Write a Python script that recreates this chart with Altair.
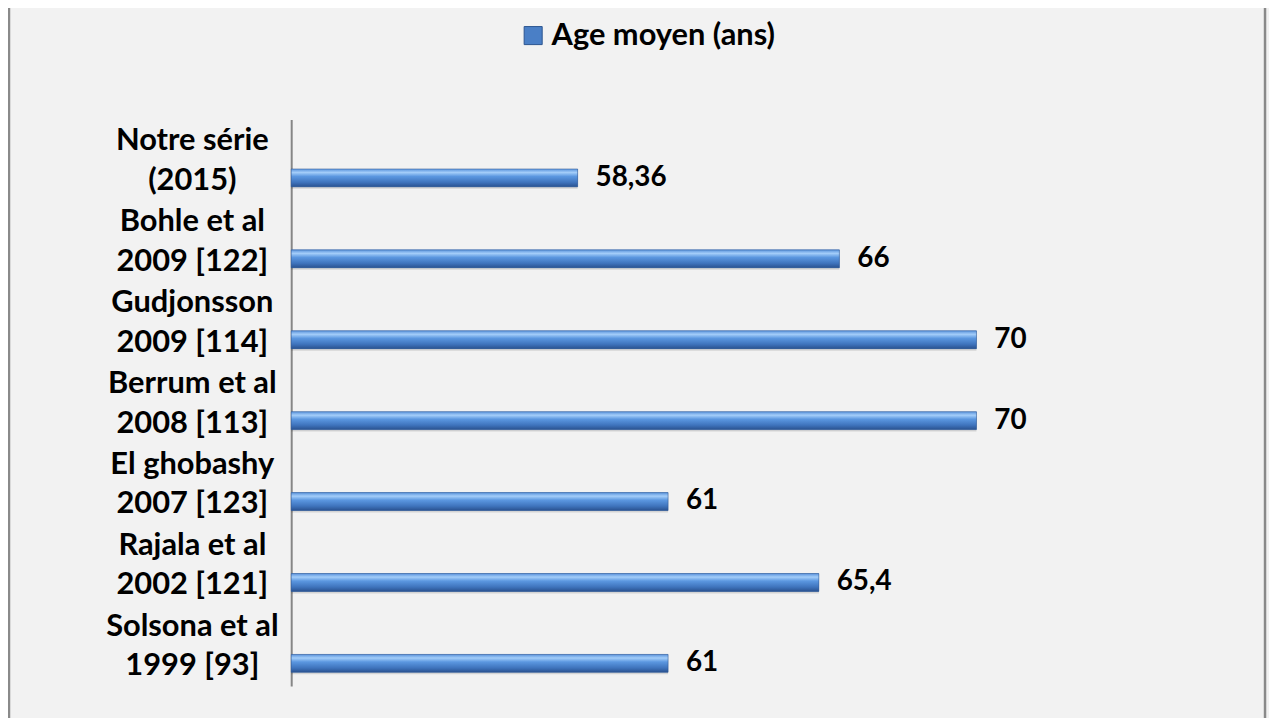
import altair as alt
import pandas as pd

categories = ["Notre série|(2015)", "Bohle et al|2009 [122]", "Gudjonsson|2009 [114]",
              "Berrum et al|2008 [113]", "El ghobashy|2007 [123]", "Rajala et al|2002 [121]",
              "Solsona et al|1999 [93]"]
values = [58.36, 66, 70, 70, 61, 65.4, 61]
value_labels = ["58,36", "66", "70", "70", "61", "65,4", "61"]
series = "Age moyen (ans)"

df = pd.DataFrame({"cat": categories, "val": values, "lab": value_labels, "series": series})

FONT = "Lato"
FS = 31
FSV = 28
W, H = 862, 570

grad = alt.LinearGradient(
    gradient="linear", x1=0, x2=0, y1=0, y2=1,
    stops=[alt.GradientStop(offset=0, color="#5a93dc"),
           alt.GradientStop(offset=0.2, color="#a3cdf9"),
           alt.GradientStop(offset=0.42, color="#5b97e0"),
           alt.GradientStop(offset=0.75, color="#3f74bd"),
           alt.GradientStop(offset=1, color="#2a5290")])

y_enc = alt.Y("cat:N", sort=None, title=None,
              axis=alt.Axis(labelExpr="split(datum.label, '|')", labelFont=FONT,
                            labelFontSize=FS, labelFontWeight="bold", labelColor="black",
                            labelAlign="center", labelBaseline="middle", labelLineHeight=40,
                            labelPadding=100, labelOffset=-19, ticks=False, tickSize=0,
                            domainColor="#868686", domainWidth=2, grid=False, labelLimit=400))
x_enc = alt.X("val:Q", scale=alt.Scale(domain=[50, 75], nice=False, zero=False), axis=None)

base = alt.Chart(df)

shadow = base.mark_bar(size=14, yOffset=22, color="#000000", opacity=0.12).encode(
    x=x_enc, x2=alt.datum(50), y=y_enc)

legend_bar = base.mark_bar(size=18, yOffset=18).encode(
    x=x_enc, x2=alt.datum(50), y=y_enc,
    fill=alt.Fill("series:N", scale=alt.Scale(range=["#4a7fc6"]),
                  legend=alt.Legend(title=None, orient="none", legendX=228, legendY=-100,
                                    symbolType="square", symbolSize=330,
                                    symbolStrokeColor="#2c5590", symbolStrokeWidth=1,
                                    labelFont=FONT, labelFontSize=FS, labelFontWeight="bold",
                                    labelColor="black", labelLimit=500, labelOffset=3)))

bars = base.mark_bar(size=18, yOffset=18, fill=grad, stroke="#2c5590", strokeWidth=0.5).encode(
    x=x_enc, x2=alt.datum(50), y=y_enc)

texts = base.mark_text(align="left", baseline="middle", dx=18, dy=18, font=FONT,
                       fontSize=FSV, fontWeight="bold", color="black").encode(
    x=x_enc, y=y_enc, text="lab:N")

border = alt.Chart(pd.DataFrame({"p": [-284, W + 118]})).mark_rule(
    color="#8a8a8a", strokeWidth=2.5).encode(
    x=alt.X("p:Q", scale=None), y=alt.value(-120), y2=alt.value(H + 40))

chart = alt.layer(shadow, legend_bar, bars, texts, border).properties(
    width=W, height=H, background="#f2f2f2",
    padding={"left": 285, "top": 110, "right": 122, "bottom": 30},
    autosize=alt.AutoSizeParams(type="none")
).configure_view(stroke=None)

chart.save("out.html", embed_options={"renderer": "svg", "actions": False})
